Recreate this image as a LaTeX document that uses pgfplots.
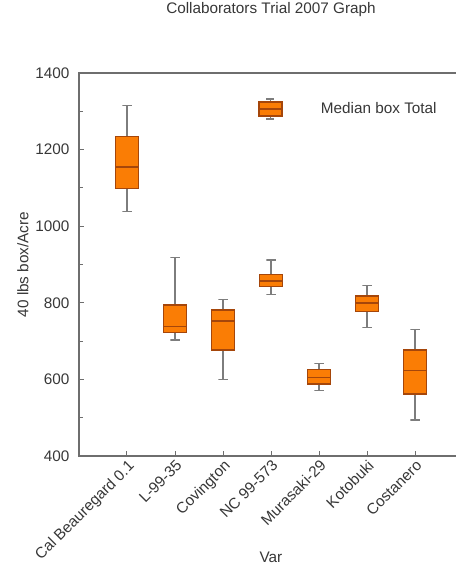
\documentclass[border=0pt]{standalone}
\usepackage{pgfplots}
\pgfplotsset{compat=1.18}
\usepackage{fontspec}
\setmainfont{Liberation Sans}

\definecolor{boxfill}{RGB}{250,125,5}
\definecolor{boxedge}{RGB}{165,70,10}
\definecolor{whisk}{RGB}{125,125,125}
\definecolor{txt}{RGB}{55,55,55}
\definecolor{axl}{RGB}{110,110,110}

\pgfplotsset{
  whisker/.style={draw=whisk, line width=1.2pt, forget plot},
  box/.style={draw=boxedge, fill=boxfill, line width=1.2pt, forget plot},
  med/.style={draw=boxedge, line width=1.6pt, forget plot},
}

\begin{document}
\begin{tikzpicture}[font=\fontsize{15.3}{18}\selectfont]
  \begin{axis}[
    scale only axis,
    width=384pt, height=383pt,
    xmin=-1, xmax=7,
    ymin=400, ymax=1400,
    xtick={0,1,...,6},
    xticklabels={Cal Beauregard 0.1, L-99-35, Covington, NC 99-573, Murasaki-29, Kotobuki, Costanero},
    ytick={400,600,...,1400},
    minor ytick={500,700,...,1300},
    xtick pos=left, ytick pos=left,
    tick align=inside,
    major tick length=5pt, minor tick length=4pt,
    tick style={draw=axl, line width=1pt},
    axis line style={draw=axl, line width=1.2pt},
    /pgf/number format/assume math mode=true,
    /pgf/number format/set thousands separator={},
    tick label style={font=\fontsize{15.3}{18}\selectfont, text=txt},
    yticklabel style={xshift=-6pt},
    xticklabel style={rotate=45, anchor=north east, inner sep=2pt},
    title={Collaborators Trial 2007 Graph},
    title style={at={(axis description cs:0.5,1.149)}, anchor=center, text=txt},
    xlabel={Var},
    xlabel style={at={(axis description cs:0.5,-0.264)}, anchor=center, text=txt},
    ylabel={40 lbs box/Acre},
    ylabel style={at={(axis description cs:-0.146,0.5)}, anchor=center, text=txt},
    legend style={at={(axis description cs:0.466,0.906)}, anchor=west,
      draw=none, fill=none, inner sep=0pt, text=txt,
      font=\fontsize{15.3}{18}\selectfont},
  ]
    % legend entry only (box icon)
    \addlegendimage{legend image code/.code={
      \path[draw=none] (0pt,0pt) -- (60pt,0pt);
      \draw[whisk, line width=1.2pt] (11.5pt,-10pt) -- (11.5pt,10pt);
      \draw[whisk, line width=1.2pt] (7.5pt,10pt) -- (15.5pt,10pt) (7.5pt,-10pt) -- (15.5pt,-10pt);
      \draw[boxedge, fill=boxfill, line width=1.2pt] (0pt,-7pt) rectangle (23pt,7pt);
      \draw[boxedge, line width=1.6pt] (0pt,0pt) -- (23pt,0pt);
    }}
    \addlegendentry{Median box Total}

    % Cal Beauregard 0.1: 1038 / 1099 / 1155 / 1235 / 1316
    \addplot[whisker] coordinates {(0,1235) (0,1316) (-0.095,1316) (0.095,1316)};
    \addplot[whisker] coordinates {(0,1099) (0,1038) (-0.095,1038) (0.095,1038)};
    \addplot[box] coordinates {(-0.24,1099) (0.24,1099) (0.24,1235) (-0.24,1235)} -- cycle;
    \addplot[med] coordinates {(-0.24,1155) (0.24,1155)};

    % L-99-35: 703 / 722 / 738 / 794 / 919
    \addplot[whisker] coordinates {(1,794) (1,919) (0.905,919) (1.095,919)};
    \addplot[whisker] coordinates {(1,722) (1,703) (0.905,703) (1.095,703)};
    \addplot[box] coordinates {(0.76,722) (1.24,722) (1.24,794) (0.76,794)} -- cycle;
    \addplot[med] coordinates {(0.76,738) (1.24,738)};

    % Covington: 600 / 677 / 753 / 781 / 809
    \addplot[whisker] coordinates {(2,781) (2,809) (1.905,809) (2.095,809)};
    \addplot[whisker] coordinates {(2,677) (2,600) (1.905,600) (2.095,600)};
    \addplot[box] coordinates {(1.76,677) (2.24,677) (2.24,781) (1.76,781)} -- cycle;
    \addplot[med] coordinates {(1.76,753) (2.24,753)};

    % NC 99-573: 822 / 842 / 857 / 874 / 912
    \addplot[whisker] coordinates {(3,874) (3,912) (2.905,912) (3.095,912)};
    \addplot[whisker] coordinates {(3,842) (3,822) (2.905,822) (3.095,822)};
    \addplot[box] coordinates {(2.76,842) (3.24,842) (3.24,874) (2.76,874)} -- cycle;
    \addplot[med] coordinates {(2.76,857) (3.24,857)};

    % Murasaki-29: 572 / 588 / 605 / 626 / 642
    \addplot[whisker] coordinates {(4,626) (4,642) (3.905,642) (4.095,642)};
    \addplot[whisker] coordinates {(4,588) (4,572) (3.905,572) (4.095,572)};
    \addplot[box] coordinates {(3.76,588) (4.24,588) (4.24,626) (3.76,626)} -- cycle;
    \addplot[med] coordinates {(3.76,605) (4.24,605)};

    % Kotobuki: 735 / 777 / 799 / 818 / 846
    \addplot[whisker] coordinates {(5,818) (5,846) (4.905,846) (5.095,846)};
    \addplot[whisker] coordinates {(5,777) (5,735) (4.905,735) (5.095,735)};
    \addplot[box] coordinates {(4.76,777) (5.24,777) (5.24,818) (4.76,818)} -- cycle;
    \addplot[med] coordinates {(4.76,799) (5.24,799)};

    % Costanero: 494 / 562 / 623 / 677 / 731
    \addplot[whisker] coordinates {(6,677) (6,731) (5.905,731) (6.095,731)};
    \addplot[whisker] coordinates {(6,562) (6,494) (5.905,494) (6.095,494)};
    \addplot[box] coordinates {(5.76,562) (6.24,562) (6.24,677) (5.76,677)} -- cycle;
    \addplot[med] coordinates {(5.76,623) (6.24,623)};
  \end{axis}
  % page = reference frame; the axis runs on past the right edge as in the original
  \pgfresetboundingbox
  \path ([shift={(-79pt,-111pt)}]current axis.south west)
    rectangle ([shift={(376pt,456pt)}]current axis.south west);
\end{tikzpicture}
\end{document}
